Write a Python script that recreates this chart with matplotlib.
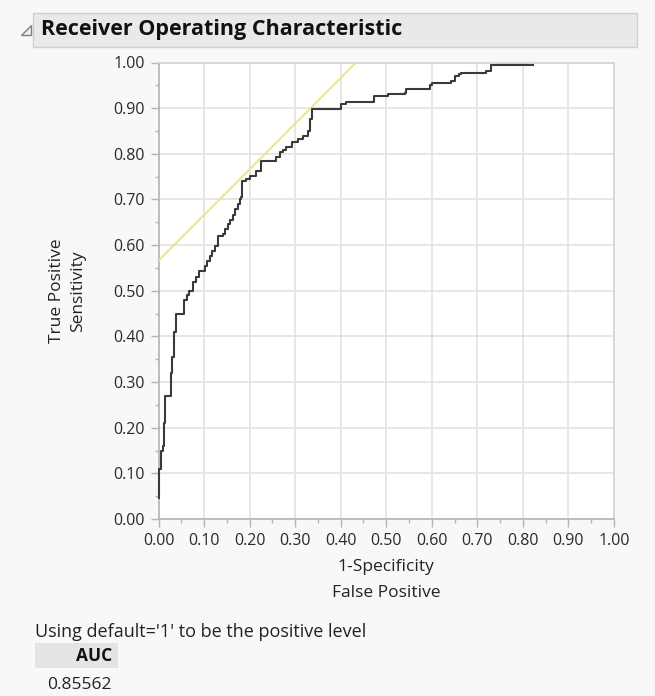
import matplotlib
matplotlib.use("Agg")
import matplotlib.pyplot as plt
from matplotlib.patches import Rectangle, Polygon
from matplotlib.ticker import MultipleLocator, FormatStrFormatter

# ---- data ----
roc_fpr = [0.002, 0.002, 0.006, 0.009, 0.012, 0.014, 0.028, 0.030, 0.034, 0.038,
           0.056, 0.056, 0.063, 0.068, 0.075, 0.082, 0.090, 0.101, 0.107, 0.112,
           0.118, 0.123, 0.130, 0.141, 0.146, 0.152, 0.158, 0.163, 0.169, 0.174,
           0.180, 0.182, 0.184, 0.193, 0.200, 0.215, 0.226, 0.259, 0.266, 0.274,
           0.281, 0.292, 0.306, 0.317, 0.328, 0.332, 0.336, 0.400, 0.412, 0.473,
           0.504, 0.541, 0.544, 0.596, 0.600, 0.643, 0.651, 0.660, 0.665, 0.720,
           0.731, 0.823]
roc_tpr = [0.047, 0.110, 0.150, 0.160, 0.210, 0.270, 0.320, 0.355, 0.410, 0.450,
           0.455, 0.480, 0.490, 0.500, 0.519, 0.530, 0.544, 0.555, 0.565, 0.577,
           0.588, 0.599, 0.621, 0.624, 0.635, 0.646, 0.655, 0.665, 0.678, 0.690,
           0.700, 0.705, 0.741, 0.745, 0.752, 0.763, 0.785, 0.792, 0.803, 0.808,
           0.814, 0.825, 0.832, 0.840, 0.850, 0.876, 0.898, 0.909, 0.913, 0.926,
           0.931, 0.934, 0.942, 0.950, 0.956, 0.960, 0.971, 0.975, 0.978, 0.982,
           0.995, 0.995]
tangent_x = [0.0, 0.434]
tangent_y = [0.566, 1.0]
x_ticks = [i / 10 for i in range(11)]
y_ticks = [i / 10 for i in range(11)]
title_text = "Receiver Operating Characteristic"
xlabel_lines = ["1-Specificity", "False Positive"]
ylabel_lines = ["True Positive", "Sensitivity"]
note_text = "Using default='1' to be the positive level"
auc_header = "AUC"
auc_value = "0.85562"

plt.rcParams['font.family'] = ['Open Sans', 'DejaVu Sans']

W, H = 655, 696
fig = plt.figure(figsize=(W / 100, H / 100), dpi=100, facecolor='#f8f8f8')

def fx(px):
    return px / W

def fy(py):
    return 1 - py / H

# header bar
fig.patches.append(Rectangle((fx(33), fy(47)), fx(637) - fx(33), fy(13) - fy(47),
                             transform=fig.transFigure, facecolor='#e9e9e9',
                             edgecolor='#cfcfcf', linewidth=1.0))
fig.patches.append(Polygon([(fx(31), fy(25)), (fx(31), fy(35)), (fx(21), fy(35))],
                           closed=True, transform=fig.transFigure,
                           facecolor='#eeeeee', edgecolor='#808080', linewidth=1.0))
fig.text(fx(41), fy(30), title_text, fontsize=15.5, fontweight='bold',
         color='#111111', ha='left', va='center')

# axes
ax = fig.add_axes([fx(158.5), fy(519), fx(614) - fx(158.5), fy(62.5) - fy(519)])
ax.set_facecolor('white')
ax.set_xlim(0, 1)
ax.set_ylim(0, 1)
ax.plot(tangent_x, tangent_y, color='#ece48c', linewidth=1.4, zorder=3)
ax.plot(roc_fpr, roc_tpr, drawstyle='steps-post', color='#3a3a3a',
        linewidth=1.5, zorder=4, clip_on=False)

ax.xaxis.set_minor_locator(MultipleLocator(0.05))
ax.yaxis.set_minor_locator(MultipleLocator(0.05))
ax.set_xticks(x_ticks)
ax.set_yticks(y_ticks)
ax.xaxis.set_major_formatter(FormatStrFormatter('%.2f'))
ax.yaxis.set_major_formatter(FormatStrFormatter('%.2f'))
ax.grid(True, which='major', color='#e4e4e4', linewidth=1.3, zorder=0)
ax.set_axisbelow(True)
ax.tick_params(which='major', length=6, width=1, color='#b5b5b5',
               labelsize=11.5, labelcolor='#2a2a2a', pad=4)
ax.tick_params(which='minor', length=3, width=1, color='#b5b5b5')
for side in ['left', 'bottom']:
    ax.spines[side].set_color('#b5b5b5')
    ax.spines[side].set_linewidth(1.2)
for side in ['top', 'right']:
    ax.spines[side].set_color('#d4d4d4')
    ax.spines[side].set_linewidth(1.2)

# axis labels
fig.text(fx(386), fy(567), xlabel_lines[0], fontsize=12.5, color='#222222',
         ha='center', va='center')
fig.text(fx(386), fy(593), xlabel_lines[1], fontsize=12.5, color='#222222',
         ha='center', va='center')
fig.text(fx(57), fy(291), ylabel_lines[0], fontsize=12.5, color='#222222',
         ha='center', va='center', rotation=90)
fig.text(fx(78), fy(291), ylabel_lines[1], fontsize=12.5, color='#222222',
         ha='center', va='center', rotation=90)

# bottom report
fig.text(fx(35), fy(632), note_text, fontsize=13, color='#222222',
         ha='left', va='center')
fig.patches.append(Rectangle((fx(35), fy(668)), fx(118) - fx(35), fy(643) - fy(668),
                             transform=fig.transFigure, facecolor='#e4e4e4',
                             edgecolor='none'))
fig.text(fx(112), fy(656), auc_header, fontsize=12.5, fontweight='bold',
         color='#111111', ha='right', va='center')
fig.text(fx(112), fy(685), auc_value, fontsize=12.5, color='#222222',
         ha='right', va='center')

fig.savefig('out.png', dpi=100, facecolor=fig.get_facecolor())
